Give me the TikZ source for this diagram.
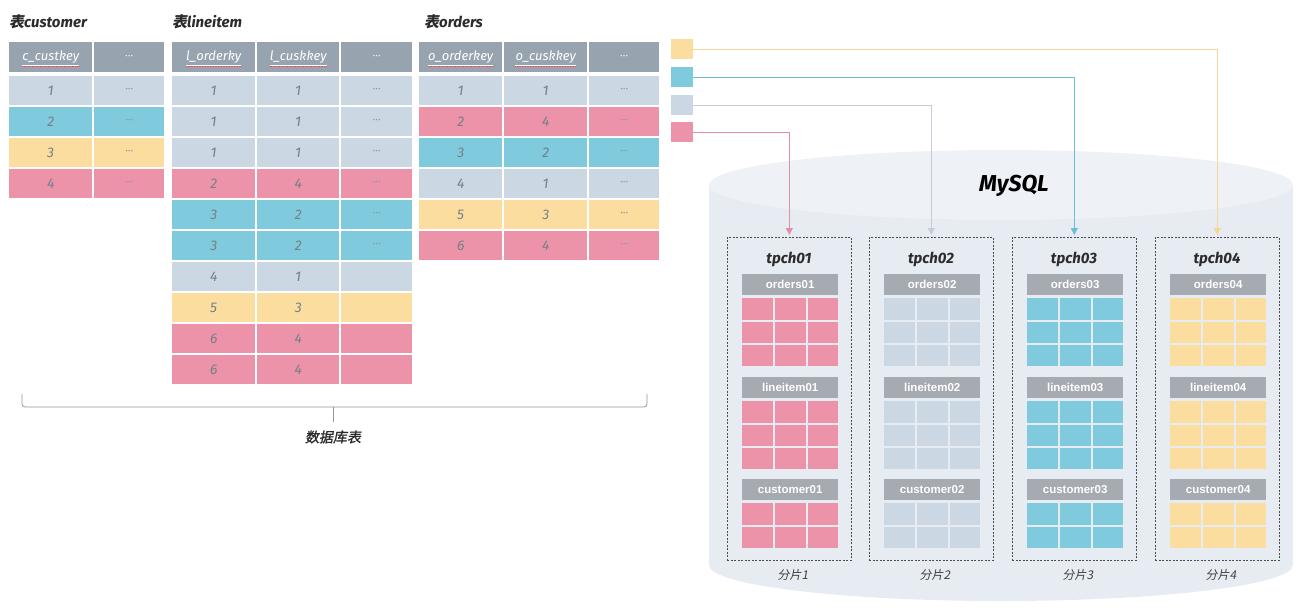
\documentclass[tikz,border=0pt]{standalone}
\usepackage{fontspec}
\usetikzlibrary{arrows.meta}
\setmainfont{Fira Sans}
\newfontfamily\cjk{Noto Sans CJK SC}
\newfontfamily\cjksl[FakeSlant=0.18]{Noto Sans CJK SC}
\newfontfamily\cjkslb[FakeSlant=0.18,FakeBold=1.2]{Noto Sans CJK SC}
\newfontfamily\fira{Fira Sans}
\newfontfamily\libs{Liberation Sans}
\definecolor{hdrc}{HTML}{97A3AF}
\definecolor{shc}{HTML}{A6ABB1}
\definecolor{lb}{HTML}{CBD8E3}
\definecolor{cy}{HTML}{7FCADC}
\definecolor{ye}{HTML}{FCDDA0}
\definecolor{pk}{HTML}{EC93A9}
\definecolor{numc}{HTML}{748089}
\definecolor{dotc}{HTML}{8C97A2}
\definecolor{ttl}{HTML}{2B2B2B}
\definecolor{cylb}{HTML}{E7ECF2}
\definecolor{cylt}{HTML}{EEF1F6}
\definecolor{lpk}{HTML}{E68DA3}
\definecolor{llb}{HTML}{C3CED9}
\definecolor{lcy}{HTML}{6BBFD5}
\definecolor{lye}{HTML}{F7D792}
\definecolor{brc}{HTML}{8F979E}
\newcommand\dotsx{{\fira\fontsize{11}{11}\selectfont\textcolor{dotc}{···}}}
\newcommand\hdots{{\fira\fontsize{11}{11}\selectfont\textcolor{white!85!hdrc}{···}}}
\tikzset{
  hdr/.style={fill=hdrc, inner sep=0pt, anchor=north west, minimum height=30},
  hdrt/.style={inner sep=0pt, text=white, font=\fira\itshape\fontsize{13}{13}\selectfont},
  squig/.style={draw=red!75, densely dotted, line width=0.6pt},
  cell/.style={inner sep=0pt, anchor=north west, minimum height=29, text=numc, font=\fira\itshape\fontsize{14}{14}\selectfont},
  ttlnode/.style={anchor=west, inner sep=0pt, text=ttl, font=\fira\bfseries\itshape\fontsize{15}{15}\selectfont},
  sbox/.style={draw=black!70, dash pattern=on 2pt off 1.5pt, line width=0.6pt, anchor=north west, inner sep=0pt, minimum width=124, minimum height=323},
  shdr/.style={fill=shc, inner sep=0pt, anchor=north west, minimum width=96, minimum height=21, text=white, font=\libs\bfseries\fontsize{11.5}{11.5}\selectfont},
  scell/.style={inner sep=0pt, anchor=north west, minimum height=21.3},
  lgsq/.style={inner sep=0pt, anchor=north west, minimum width=22, minimum height=20},
  arr/.style={line width=0.8pt, -{Triangle[width=7pt,length=7pt]}, shorten >=2pt},
}
\newcommand\hdrcell[4]{%
  \node[hdr, minimum width=#3] (#1) at (#2,42) {};
  \node[hdrt] (#1t) at (#1.center) {#4};
  \draw[white, line width=0.5pt] ([yshift=-1.5pt]#1t.south west) -- ([yshift=-1.5pt]#1t.south east);
  \draw[squig] ([yshift=-2.5pt]#1t.south west) -- ([yshift=-2.5pt]#1t.south east);
}
\newcommand\sgrid[5]{%
  \foreach \r in {1,...,#4}{
    \foreach \q/\qx/\qw in {1/0/31,2/33/31,3/66/30}{
      \node[scell, fill=#5, minimum width=\qw] (#1-\r-\q) at ({#2+\qx},{#3+(\r-1)*23.3}) {};
    }
  }
}
\begin{document}
\begin{tikzpicture}[x=1pt,y=-1pt]
\useasboundingbox (0,0) rectangle (1301,613);
% ---------- titles
\node[ttlnode] (tcu) at (9,22) {{\cjksl\bfseries 表}customer};
\node[ttlnode] (tli) at (172,22) {{\cjksl\bfseries 表}lineitem};
\node[ttlnode] (tor) at (424,22) {{\cjksl\bfseries 表}orders};
% ---------- customer
\hdrcell{cuh1}{9}{83}{c\_custkey}
\node[hdr, minimum width=70] (cuh2) at (94,42) {\hdots};
\foreach \val/\c [count=\i from 0] in {1/lb,2/cy,3/ye,4/pk}{
  \node[cell, fill=\c, minimum width=83] (cu-\i-1) at (9,{76+31*\i}) {\val};
  \node[cell, fill=\c, minimum width=70] (cu-\i-2) at (94,{76+31*\i}) {\dotsx};
}
% ---------- lineitem
\hdrcell{lih1}{172}{83}{l\_orderky}
\hdrcell{lih2}{257}{82}{l\_cuskkey}
\node[hdr, minimum width=71] (lih3) at (341,42) {\hdots};
\foreach \va/\vb/\c/\d [count=\i from 0] in {1/1/lb/1,1/1/lb/1,1/1/lb/1,2/4/pk/1,3/2/cy/1,3/2/cy/1,4/1/lb/0,5/3/ye/0,6/4/pk/0,6/4/pk/0}{
  \node[cell, fill=\c, minimum width=83] (li-\i-1) at (172,{76+31*\i}) {\va};
  \node[cell, fill=\c, minimum width=82] (li-\i-2) at (257,{76+31*\i}) {\vb};
  \node[cell, fill=\c, minimum width=71] (li-\i-3) at (341,{76+31*\i}) {\ifnum\d=1 \dotsx\fi};
}
% ---------- orders
\hdrcell{orh1}{419}{83}{o\_orderkey}
\hdrcell{orh2}{504}{83}{o\_cuskkey}
\node[hdr, minimum width=70] (orh3) at (589,42) {\hdots};
\foreach \va/\vb/\c [count=\i from 0] in {1/1/lb,2/4/pk,3/2/cy,4/1/lb,5/3/ye,6/4/pk}{
  \node[cell, fill=\c, minimum width=83] (or-\i-1) at (419,{76+31*\i}) {\va};
  \node[cell, fill=\c, minimum width=83] (or-\i-2) at (504,{76+31*\i}) {\vb};
  \node[cell, fill=\c, minimum width=70] (or-\i-3) at (589,{76+31*\i}) {\dotsx};
}
% ---------- brace
\coordinate (brl) at (22,394);
\coordinate (brr) at (647,394);
\coordinate (brm) at (333,407);
\node[inner sep=0pt, text=ttl, font=\cjkslb\fontsize{14}{14}\selectfont] (db) at (333,437) {数据库表};
\draw[brc, line width=0.8pt, rounded corners=3pt] (brl) -- (22,407) -- (brm) -- (647,407) -- (brr);
\draw[brc, line width=0.8pt] (brm) -- (333,422);
% ---------- cylinder
\fill[cylb] (709,185) rectangle (1293,565);
\fill[cylb] (1001,565) ellipse [x radius=292, y radius=36];
\fill[cylt] (1001,185) ellipse [x radius=292, y radius=35];
\node[inner sep=0pt, font=\fira\bfseries\itshape\fontsize{23}{23}\selectfont, text=black] (mysql) at (1014,186) {MySQL};
% ---------- legend squares
\node[lgsq, fill=ye] (lgye) at (671,39) {};
\node[lgsq, fill=cy] (lgcy) at (671,67) {};
\node[lgsq, fill=lb] (lglb) at (671,95) {};
\node[lgsq, fill=pk] (lgpk) at (671,122) {};
% ---------- shards
\foreach \s/\c/\cx [count=\k] in {01/pk/727,02/lb/869,03/cy/1012,04/ye/1155}{
  \node[sbox] (box\k) at (\cx,237) {};
  \node[inner sep=0pt, text=ttl, font=\fira\bfseries\itshape\fontsize{15}{15}\selectfont] (tp\k) at ({\cx+62},259) {tpch\s};
  \node[shdr] (so\k) at ({\cx+15},274) {orders\s};
  \sgrid{go\k}{\cx+15}{298}{3}{\c}
  \node[shdr] (sl\k) at ({\cx+15},377) {lineitem\s};
  \sgrid{gl\k}{\cx+15}{401}{3}{\c}
  \node[shdr] (sc\k) at ({\cx+15},479) {customer\s};
  \sgrid{gc\k}{\cx+15}{503}{2}{\c}
  \node[inner sep=0pt, text=black!75, font=\cjksl\fontsize{12}{12}\selectfont] (fp\k) at ({\cx+66},575) {分片\k};
}
% ---------- arrows
\draw[arr, lpk] (lgpk.east) -| (box1.north);
\draw[arr, llb] (lglb.east) -| (box2.north);
\draw[arr, lcy] (lgcy.east) -| (box3.north);
\draw[arr, lye] (lgye.east) -| (box4.north);
\end{tikzpicture}
\end{document}
